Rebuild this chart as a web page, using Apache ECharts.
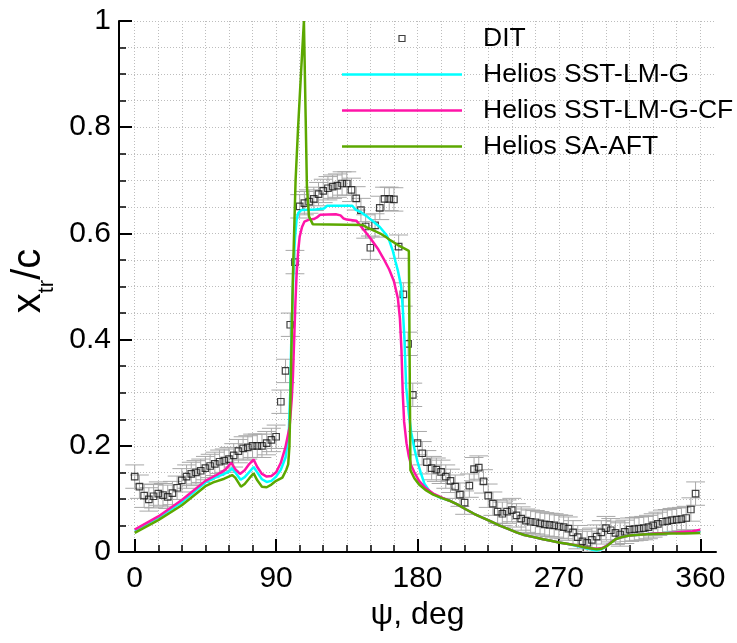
<!DOCTYPE html>
<html><head><meta charset="utf-8">
<script src="https://cdn.jsdelivr.net/npm/echarts@6/dist/echarts.min.js"></script>
<style>html,body{margin:0;padding:0;background:#fff}#chart{width:737px;height:643px}</style>
</head><body><div id="chart"></div>
<script>
const xMajorTicks = [0, 90, 180, 270, 360];
const xMinorTicks = [0, 15, 30, 45, 60, 75, 90, 105, 120, 135, 150, 165, 180, 195, 210, 225, 240, 255, 270, 285, 300, 315, 330, 345, 360];
const seriesNames = ['DIT', 'Helios SST-LM-G', 'Helios SST-LM-G-CF', 'Helios SA-AFT'];

const ditData = [
  [0,0.142],[3,0.123],[6,0.106],[9,0.099],[12,0.105],[15,0.110],[18,0.107],[21,0.104],[24,0.111],[27,0.121],
  [30,0.135],[33,0.142],[36,0.147],[39,0.150],[42,0.153],[45,0.158],[48,0.162],[51,0.166],[54,0.170],[57,0.172],
  [60,0.175],[63,0.182],[66,0.190],[69,0.195],[72,0.197],[75,0.200],[78,0.200],[81,0.200],[84,0.205],[87,0.211],
  [90,0.217],[93,0.283],[96,0.341],[99,0.428],[102,0.546],[105,0.651],[108,0.657],[111,0.660],[114,0.665],[117,0.674],
  [120,0.680],[123,0.685],[126,0.688],[129,0.690],[132,0.694],[135,0.694],[138,0.682],[141,0.666],[144,0.644],[147,0.613],
  [150,0.573],[153,0.615],[156,0.648],[159,0.665],[162,0.665],[165,0.664],[168,0.575],[171,0.485],[174,0.392],[177,0.296],
  [180,0.205],[183,0.186],[186,0.169],[189,0.158],[192,0.155],[195,0.151],[198,0.142],[201,0.134],[204,0.123],[207,0.108],
  [210,0.093],[213,0.125],[216,0.156],[219,0.159],[222,0.133],[225,0.106],[228,0.091],[231,0.076],[234,0.072],[237,0.076],
  [240,0.079],[243,0.069],[246,0.063],[249,0.059],[252,0.057],[255,0.056],[258,0.054],[261,0.052],[264,0.051],[267,0.050],
  [270,0.048],[273,0.047],[276,0.044],[279,0.037],[282,0.028],[285,0.020],[288,0.017],[291,0.023],[294,0.029],[297,0.037],
  [300,0.045],[303,0.041],[306,0.036],[309,0.033],[312,0.038],[315,0.042],[318,0.043],[321,0.044],[324,0.045],[327,0.047],
  [330,0.050],[333,0.053],[336,0.057],[339,0.058],[342,0.060],[345,0.061],[348,0.062],[351,0.064],[354,0.080],[357,0.110]
];
const ditErrY = 0.022;
const ditErrX = 6;

const sstData = [
  [0,0.040],[15,0.065],[30,0.094],[45,0.131],[52,0.141],[57,0.147],[60,0.152],[62,0.158],[64.5,0.148],[67.4,0.136],
  [70,0.141],[73,0.151],[75.7,0.160],[78,0.150],[81,0.137],[84,0.132],[87,0.134],[90,0.142],[93,0.155],[96,0.178],
  [98,0.22],[99,0.30],[99.6,0.39],[100.5,0.48],[101.3,0.55],[102,0.59],[103,0.625],[104,0.638],[106,0.644],[115,0.645],
  [120.5,0.647],[122.5,0.652],[138.5,0.652],[140.5,0.645],[144,0.640],[147.4,0.633],[151.6,0.623],[156,0.612],[160,0.598],[162,0.587],
  [164.3,0.567],[166,0.547],[167.5,0.530],[169.6,0.500],[170.7,0.455],[171.7,0.40],[172.8,0.31],[174.5,0.26],[176,0.225],[178,0.195],
  [180,0.170],[182,0.150],[184.5,0.128],[188,0.113],[194,0.103],[200,0.097],[205,0.090],[211,0.080],[216,0.072],[222,0.064],
  [227,0.057],[232,0.050],[238,0.043],[243,0.037],[248,0.032],[254,0.028],[260,0.024],[265,0.021],[270,0.018],[276,0.015],
  [282,0.011],[286,0.008],[290,0.005],[294,0.003],[297,0.005],[300,0.011],[303,0.018],[306,0.024],[310,0.028],[315,0.031],
  [323,0.033],[330,0.035],[340,0.036],[350,0.037],[360,0.038]
];
const sstCfData = [
  [0,0.042],[15,0.067],[30,0.098],[45,0.134],[52,0.145],[55,0.150],[58,0.156],[61.5,0.168],[64,0.156],[67,0.147],
  [70,0.154],[73,0.166],[75.7,0.174],[78,0.160],[81,0.147],[84,0.142],[87,0.143],[90,0.150],[93,0.168],[96,0.198],
  [98.6,0.236],[100,0.29],[100.7,0.33],[101.5,0.40],[102.3,0.47],[103,0.52],[104,0.565],[105,0.594],[106.5,0.612],[108,0.622],
  [111,0.626],[114,0.627],[116,0.630],[118,0.635],[128,0.636],[131,0.634],[133,0.628],[135,0.626],[141,0.624],[143,0.617],
  [146,0.606],[150,0.591],[155,0.570],[159,0.549],[162,0.532],[165,0.510],[167.5,0.478],[168.8,0.44],[169.8,0.38],[170.6,0.30],
  [171.5,0.245],[173,0.205],[174.5,0.18],[176,0.163],[178,0.150],[181,0.134],[185,0.121],[190,0.110],[196,0.102],[200,0.097],
  [205,0.090],[211,0.080],[216,0.072],[222,0.064],[227,0.057],[232,0.050],[238,0.043],[243,0.037],[248,0.032],[254,0.028],
  [260,0.024],[265,0.021],[270,0.018],[276,0.015],[282,0.012],[286,0.009],[290,0.007],[294,0.006],[297,0.007],[300,0.011],
  [303,0.018],[306,0.024],[310,0.028],[315,0.031],[323,0.033],[330,0.035],[340,0.036],[350,0.038],[355,0.039],[360,0.042]
];
const saAftData = [
  [0,0.036],[15,0.060],[30,0.088],[45,0.124],[50,0.131],[57,0.138],[62,0.145],[64,0.140],[67.6,0.123],[70,0.128],
  [73,0.139],[75.7,0.148],[78,0.135],[81,0.123],[84,0.122],[87,0.127],[90,0.134],[94,0.140],[96.5,0.155],[97.7,0.165],
  [98.5,0.20],[99.6,0.36],[100.7,0.52],[102.4,0.70],[104,0.80],[106,0.91],[107.7,1.0],[108.8,0.82],[109.6,0.69],[110.9,0.632],
  [113.4,0.617],[145,0.616],[148,0.611],[152.6,0.605],[157.3,0.598],[160,0.593],[162.2,0.588],[165,0.583],[167.5,0.578],[170,0.574],
  [174.5,0.567],[175.5,0.154],[178,0.139],[181,0.127],[185,0.117],[190,0.108],[196,0.101],[200,0.097],[205,0.090],[211,0.080],
  [216,0.072],[222,0.064],[227,0.057],[232,0.050],[238,0.043],[243,0.037],[248,0.032],[254,0.028],[260,0.024],[265,0.021],
  [270,0.018],[276,0.015],[282,0.012],[286,0.009],[290,0.007],[294,0.005],[297,0.006],[300,0.010],[303,0.017],[306,0.024],
  [310,0.028],[315,0.031],[323,0.033],[330,0.034],[340,0.035],[350,0.035],[360,0.036]
];

const FONT = '"Liberation Sans", Arial, Helvetica, sans-serif';
const colors = { cyan: '#00ffff', magenta: '#ff14a8', green: '#5ca800' };
const gridDot = { show: true, lineStyle: { color: '#bdbdbd', width: 1, type: [1, 2] } };

const chart = echarts.init(document.getElementById('chart'), null, { renderer: 'canvas' });
chart.setOption({
  animation: false,
  backgroundColor: '#ffffff',
  grid: { left: 119, top: 21, width: 597, height: 531, containLabel: false },
  legend: {
    orient: 'vertical', left: 342, top: 25, padding: 0,
    itemWidth: 120, itemHeight: 6, itemGap: 9,
    selectedMode: false,
    textStyle: { fontFamily: FONT, fontSize: 26.5, color: '#000', padding: [0, 0, 0, 16] },
    data: [
      { name: seriesNames[0], icon: 'path://M0,0H10V10H0Z', itemStyle: { color: 'rgba(0,0,0,0)', borderColor: '#111', borderWidth: 1.2 } },
      { name: seriesNames[1], icon: 'path://M0,0H120V2.5H0Z', itemStyle: { color: colors.cyan, borderWidth: 0 } },
      { name: seriesNames[2], icon: 'path://M0,0H120V2.5H0Z', itemStyle: { color: colors.magenta, borderWidth: 0 } },
      { name: seriesNames[3], icon: 'path://M0,0H120V2.5H0Z', itemStyle: { color: colors.green, borderWidth: 0 } }
    ]
  },
  xAxis: [
    {
      type: 'value', min: -10, max: 370, position: 'bottom',
      name: 'ψ, deg', nameLocation: 'middle', nameGap: 47,
      nameTextStyle: { fontFamily: FONT, fontSize: 32, color: '#000' },
      axisLine: { show: true, onZero: false, lineStyle: { color: '#000', width: 2 } },
      axisTick: { show: true, inside: true, length: 13, customValues: xMajorTicks, lineStyle: { color: '#000', width: 2 } },
      axisLabel: { show: true, customValues: xMajorTicks, margin: 12, fontFamily: FONT, fontSize: 30, color: '#000' },
      splitLine: { show: false }
    },
    {
      type: 'value', min: -10, max: 370, position: 'bottom',
      axisLine: { show: false, onZero: false },
      axisTick: { show: true, inside: true, length: 7, customValues: xMinorTicks, lineStyle: { color: '#000', width: 1.5 } },
      axisLabel: { show: false },
      splitLine: gridDot
    }
  ],
  yAxis: {
    type: 'value', min: 0, max: 1, interval: 0.2,
    name: '{a|x}{b|tr}{a|/c}', nameLocation: 'middle', nameRotate: 90, nameGap: 60,
    nameTextStyle: {
      padding: [0, 0, 0, 11],
      rich: {
        a: { fontFamily: FONT, fontSize: 40, color: '#000', verticalAlign: 'top' },
        b: { fontFamily: FONT, fontSize: 22, color: '#000', verticalAlign: 'top', padding: [27, 0, 0, 0] }
      }
    },
    axisLine: { show: true, onZero: false, lineStyle: { color: '#000', width: 2 } },
    axisTick: { show: true, inside: true, length: 13, lineStyle: { color: '#000', width: 2 } },
    minorTick: { show: true, splitNumber: 4, length: 7, lineStyle: { color: '#000', width: 1.5 } },
    axisLabel: { margin: 8, fontFamily: FONT, fontSize: 30, color: '#000' },
    splitLine: gridDot,
    minorSplitLine: gridDot
  },
  series: [
    {
      name: 'DIT error', type: 'custom', xAxisIndex: 0, yAxisIndex: 0, z: 1, clip: true,
      encode: { x: 0, y: 1 },
      data: ditData,
      renderItem: function (params, api) {
        const x = api.value(0), y = api.value(1);
        const t = api.coord([x, y + ditErrY]);
        const b = api.coord([x, y - ditErrY]);
        const tl = api.coord([x - ditErrX, y + ditErrY]);
        const tr = api.coord([x + ditErrX, y + ditErrY]);
        const bl = api.coord([x - ditErrX, y - ditErrY]);
        const br = api.coord([x + ditErrX, y - ditErrY]);
        const st = { stroke: '#a8a8a8', lineWidth: 1 };
        return {
          type: 'group', children: [
            { type: 'line', shape: { x1: t[0], y1: t[1], x2: b[0], y2: b[1] }, style: st },
            { type: 'line', shape: { x1: tl[0], y1: tl[1], x2: tr[0], y2: tr[1] }, style: st },
            { type: 'line', shape: { x1: bl[0], y1: bl[1], x2: br[0], y2: br[1] }, style: st }
          ]
        };
      }
    },
    {
      name: seriesNames[0], type: 'scatter', xAxisIndex: 0, z: 2,
      symbol: 'rect', symbolSize: 6.5,
      itemStyle: { color: 'rgba(0,0,0,0)', borderColor: '#111', borderWidth: 1.2 },
      data: ditData
    },
    {
      name: seriesNames[1], type: 'line', xAxisIndex: 0, z: 3, symbol: 'none', showSymbol: false,
      lineStyle: { color: colors.cyan, width: 2.5 }, itemStyle: { color: colors.cyan },
      data: sstData
    },
    {
      name: seriesNames[2], type: 'line', xAxisIndex: 0, z: 4, symbol: 'none', showSymbol: false,
      lineStyle: { color: colors.magenta, width: 2.5 }, itemStyle: { color: colors.magenta },
      data: sstCfData
    },
    {
      name: seriesNames[3], type: 'line', xAxisIndex: 0, z: 5, symbol: 'none', showSymbol: false,
      lineStyle: { color: colors.green, width: 2.5 }, itemStyle: { color: colors.green },
      data: saAftData
    }
  ]
});
</script>
</body></html>
